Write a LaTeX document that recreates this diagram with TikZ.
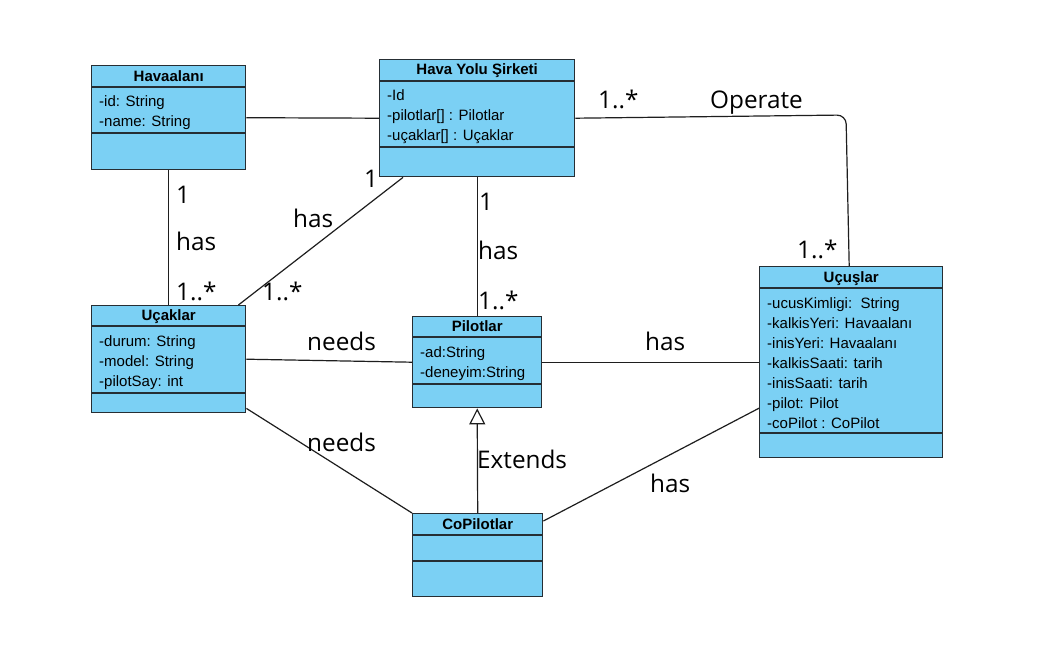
\documentclass[tikz,border=0pt]{standalone}
\usepackage{fontspec}
\setmainfont{Liberation Sans}
\newfontfamily\lblfont{Open Sans}
\usetikzlibrary{arrows.meta,calc}
\definecolor{boxfill}{RGB}{123,208,244}
\definecolor{boxline}{RGB}{38,46,52}
\definecolor{connline}{RGB}{30,30,30}
\tikzset{
  classbox/.style={draw=boxline, fill=boxfill, line width=1.4pt, inner sep=0pt, anchor=north west},
  sepline/.style={draw=boxline, line width=1.4pt},
  hdr/.style={font=\fontsize{15}{17}\selectfont\bfseries, inner sep=0pt, text height=10.8pt, text depth=0pt, anchor=base},
  attr/.style={font=\fontsize{15}{17}\selectfont, anchor=base west, inner sep=0pt},
  conn/.style={draw=connline, line width=1.2pt},
  lbl/.style={font=\lblfont\fontsize{24.3}{27}\selectfont, anchor=base west, inner sep=0pt}
}
\begin{document}
\begin{tikzpicture}[x=1pt,y=-1pt]
\useasboundingbox[fill=white] (0,0) rectangle (1041,651);

% ---------- class boxes ----------
\node[classbox, minimum width=154pt, minimum height=104pt] (hav) at (91,65) {};
\node[classbox, minimum width=195pt, minimum height=117pt] (hys) at (379,59) {};
\node[classbox, minimum width=154pt, minimum height=107pt] (uck) at (91,305) {};
\node[classbox, minimum width=129pt, minimum height=91pt] (pil) at (412,316) {};
\node[classbox, minimum width=183pt, minimum height=191pt] (ucs) at (759,266) {};
\node[classbox, minimum width=130pt, minimum height=83pt] (cop) at (412,513) {};

% ---------- connectors ----------
\coordinate (opc) at (846,115);
\draw[conn] (hav.east) -- (hys.west);
\draw[conn] (hav.south) -- (uck.north);
\draw[conn] ($(hys.south west)+(24,0)$) -- ($(uck.north east)+(-8,0)$);
\draw[conn] (hys.south) -- (pil.north);
\draw[conn, rounded corners=9pt] (hys.east) -- (opc) -- ($(ucs.north)+(-2,0)$);
\draw[conn] (uck.east) -- (pil.west);
\draw[conn] (pil.east) -- (ucs.west);
\draw[conn] ($(uck.south east)+(0,-5)$) -- (cop.north west);
\draw[conn] ($(cop.north east)+(0,8)$) -- ($(ucs.west)+(0,46)$);
\draw[conn, -{Triangle[length=16pt, width=16pt, fill=white]}] (cop.north) -- (pil.south);

% ---------- Havaalani ----------
\draw[sepline] ($(hav.north west)+(0,22)$) -- ($(hav.north east)+(0,22)$);
\draw[sepline] ($(hav.north west)+(0,68)$) -- ($(hav.north east)+(0,68)$);
\node[hdr] (havt) at ($(hav.north)+(0,16.3)$) {Havaalanı};
\node[attr] (hav1) at ($(hav.north west)+(8,41)$) {-id: String};
\node[attr] (hav2) at ($(hav.north west)+(8,61)$) {-name: String};

% ---------- Hava Yolu Sirketi ----------
\draw[sepline] ($(hys.north west)+(0,22)$) -- ($(hys.north east)+(0,22)$);
\draw[sepline] ($(hys.north west)+(0,88)$) -- ($(hys.north east)+(0,88)$);
\node[hdr] (hyst) at ($(hys.north)+(0,15.8)$) {Hava Yolu Şirketi};
\node[attr] (hys1) at ($(hys.north west)+(8,41)$) {-Id};
\node[attr] (hys2) at ($(hys.north west)+(8,61)$) {-pilotlar[] : Pilotlar};
\node[attr] (hys3) at ($(hys.north west)+(8,81)$) {-uçaklar[] : Uçaklar};

% ---------- Ucaklar ----------
\draw[sepline] ($(uck.north west)+(0,21)$) -- ($(uck.north east)+(0,21)$);
\draw[sepline] ($(uck.north west)+(0,88)$) -- ($(uck.north east)+(0,88)$);
\node[hdr] (uckt) at ($(uck.north)+(0,15.8)$) {Uçaklar};
\node[attr] (uck1) at ($(uck.north west)+(8,41)$) {-durum: String};
\node[attr] (uck2) at ($(uck.north west)+(8,61)$) {-model: String};
\node[attr] (uck3) at ($(uck.north west)+(8,81)$) {-pilotSay: int};

% ---------- Pilotlar ----------
\draw[sepline] ($(pil.north west)+(0,21)$) -- ($(pil.north east)+(0,21)$);
\draw[sepline] ($(pil.north west)+(0,68)$) -- ($(pil.north east)+(0,68)$);
\node[hdr] (pilt) at ($(pil.north)+(0,15.8)$) {Pilotlar};
\node[attr] (pil1) at ($(pil.north west)+(8,41)$) {-ad:String};
\node[attr] (pil2) at ($(pil.north west)+(8,61)$) {-deneyim:String};

% ---------- Ucuslar ----------
\draw[sepline] ($(ucs.north west)+(0,22)$) -- ($(ucs.north east)+(0,22)$);
\draw[sepline] ($(ucs.north west)+(0,167)$) -- ($(ucs.north east)+(0,167)$);
\node[hdr] (ucst) at ($(ucs.north)+(0,16.3)$) {Uçuşlar};
\node[attr] (ucs1) at ($(ucs.north west)+(8,42)$) {-ucusKimligi:\ \ String};
\node[attr] (ucs2) at ($(ucs.north west)+(8,62)$) {-kalkisYeri: Havaalanı};
\node[attr] (ucs3) at ($(ucs.north west)+(8,82)$) {-inisYeri: Havaalanı};
\node[attr] (ucs4) at ($(ucs.north west)+(8,102)$) {-kalkisSaati: tarih};
\node[attr] (ucs5) at ($(ucs.north west)+(8,122)$) {-inisSaati: tarih};
\node[attr] (ucs6) at ($(ucs.north west)+(8,142)$) {-pilot: Pilot};
\node[attr] (ucs7) at ($(ucs.north west)+(8,162)$) {-coPilot : CoPilot};

% ---------- CoPilotlar ----------
\draw[sepline] ($(cop.north west)+(0,22)$) -- ($(cop.north east)+(0,22)$);
\draw[sepline] ($(cop.north west)+(0,48)$) -- ($(cop.north east)+(0,48)$);
\node[hdr] (copt) at ($(cop.north)+(0,16.3)$) {CoPilotlar};

% ---------- labels ----------
\node[lbl] (l1) at (176,203) {1};
\node[lbl] (l2) at (176,250) {has};
\node[lbl] (l3) at (176,300) {1..*};
\node[lbl] (l4) at (364,187) {1};
\node[lbl] (l5) at (293,227) {has};
\node[lbl] (l6) at (262,300) {1..*};
\node[lbl] (l7) at (479,210) {1};
\node[lbl] (l8) at (478,259) {has};
\node[lbl] (l9) at (478,309) {1..*};
\node[lbl] (l10) at (598,108) {1..*};
\node[lbl] (l11) at (710,108) {Operate};
\node[lbl] (l12) at (797,258) {1..*};
\node[lbl] (l13) at (307,350) {needs};
\node[lbl] (l14) at (645,350) {has};
\node[lbl] (l15) at (307,451) {needs};
\node[lbl] (l16) at (477,468) {Extends};
\node[lbl] (l17) at (650,492) {has};
\end{tikzpicture}
\end{document}
